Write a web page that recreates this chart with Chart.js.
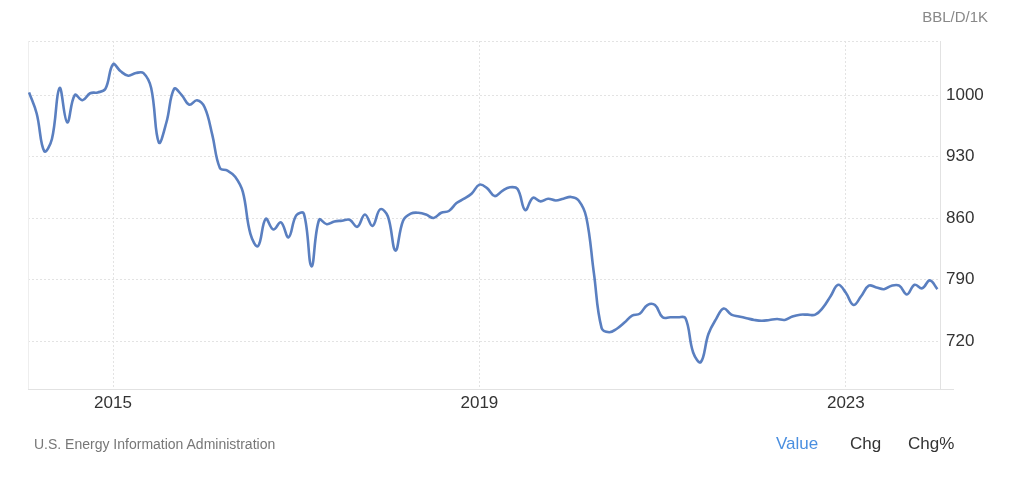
<!DOCTYPE html>
<html><head><meta charset="utf-8">
<script src="https://cdn.jsdelivr.net/npm/chart.js@4.4.1/dist/chart.umd.min.js"></script>
<style>
html,body{margin:0;padding:0;background:#fff;width:1024px;height:477px;overflow:hidden;font-family:"Liberation Sans",Arial,Helvetica,sans-serif;}
#wrap{position:absolute;left:0;top:0;width:1024px;height:477px;}
#unit{position:absolute;right:36px;top:8px;font-size:15px;color:#888;}
#src{position:absolute;left:34px;top:436px;font-size:14px;color:#777;}
.tab{position:absolute;top:434px;font-size:17px;color:#333;}
</style></head>
<body>
<div id="wrap"><canvas id="c" width="1024" height="477"></canvas></div>
<div id="unit">BBL/D/1K</div>
<div id="src">U.S. Energy Information Administration</div>
<span class="tab" style="left:776px;color:#4a8fe0;">Value</span>
<span class="tab" style="left:850px;">Chg</span>
<span class="tab" style="left:908px;">Chg%</span>
<script>
// Monthly values (BBL/D/1K), Jan..Dec of each year
const YEARS = [2014, 2015, 2016, 2017, 2018, 2019, 2020, 2021, 2022, 2023];
const V2014 = [1003, 979, 936, 950, 1008, 969, 1000, 994, 1002, 1003, 1007, 1035];
const V2015 = [1027, 1022, 1025, 1025, 1008, 946, 969, 1007, 1000, 989, 994, 986];
const V2016 = [955, 917, 914, 907, 890, 842, 828, 859, 847, 855, 838, 863];
const V2017 = [865, 805, 858, 853, 856, 857, 858, 850, 864, 851, 870, 862];
const V2018 = [823, 857, 865, 866, 864, 860, 866, 868, 877, 882, 888, 898];
const V2019 = [894, 885, 891, 895, 893, 869, 883, 879, 882, 880, 882, 884];
const V2020 = [880, 861, 797, 735, 730, 734, 741, 749, 751, 761, 761, 747];
const V2021 = [747, 747, 746, 707, 696, 728, 745, 757, 750, 748, 746, 744];
const V2022 = [743, 744, 745, 744, 748, 750, 750, 750, 758, 771, 784, 775];
const V2023 = [761, 771, 783, 781, 779, 783, 783, 773, 784, 780, 789, 779];
const SERIES = [V2014, V2015, V2016, V2017, V2018, V2019, V2020, V2021, V2022, V2023];

const X_TICKS = [2015, 2019, 2023];
const Y_TICKS = [720, 790, 860, 930, 1000];
const X_MIN = 2014.072, X_MAX = 2024.028;
const Y_MIN = 665.4, Y_MAX = 1061.5;

const points = [];
YEARS.forEach((yr, i) => SERIES[i].forEach((v, m) => points.push({x: yr + (m + 1) / 12, y: v})));

const FONT = '"Liberation Sans", Arial, Helvetica, sans-serif';

const frame = {
  id: 'frame',
  beforeDatasetsDraw(chart) {
    const {ctx, chartArea: a} = chart;
    ctx.save();
    ctx.lineWidth = 1;
    ctx.strokeStyle = '#eeeeee';
    ctx.beginPath();
    ctx.moveTo(a.left + 0.5, a.top); ctx.lineTo(a.left + 0.5, a.bottom);
    ctx.stroke();
    ctx.strokeStyle = '#e2e2e2';
    ctx.beginPath();
    ctx.moveTo(a.right + 0.5, a.top); ctx.lineTo(a.right + 0.5, a.bottom);
    ctx.moveTo(a.left, a.bottom + 0.5); ctx.lineTo(a.right + 14, a.bottom + 0.5);
    ctx.stroke();
    ctx.restore();
  }
};

new Chart(document.getElementById('c'), {
  type: 'line',
  data: {
    datasets: [{
      data: points,
      borderColor: '#5a7fc0',
      borderWidth: 2.6,
      pointRadius: 0,
      tension: 0.4,
      fill: false
    }]
  },
  options: {
    responsive: false,
    animation: false,
    devicePixelRatio: 1,
    layout: {padding: {left: 28, top: 41, right: 0, bottom: 0}},
    plugins: {legend: {display: false}, tooltip: {enabled: false}},
    scales: {
      x: {
        type: 'linear', min: X_MIN, max: X_MAX,
        afterBuildTicks: s => { s.ticks = X_TICKS.map(v => ({value: v})); },
        afterFit: s => { s.height = 88; },
        grid: {color: '#e3e3e3', drawTicks: false, lineWidth: 1},
        border: {display: false, dash: [2, 2]},
        ticks: {padding: 4, color: '#333', maxRotation: 0, font: {size: 17, family: FONT},
                callback: v => String(v)}
      },
      y: {
        position: 'right', min: Y_MIN, max: Y_MAX,
        afterBuildTicks: s => { s.ticks = Y_TICKS.concat([Y_MAX]).map(v => ({value: v})); },
        afterFit: s => { s.width = 84; },
        grid: {color: '#e3e3e3', drawTicks: false, lineWidth: 1},
        border: {display: false, dash: [2, 2]},
        ticks: {padding: 6, color: '#333', font: {size: 17, family: FONT},
                callback: v => Y_TICKS.includes(v) ? String(v) : ''}
      }
    }
  },
  plugins: [frame]
});
</script>
</body></html>
